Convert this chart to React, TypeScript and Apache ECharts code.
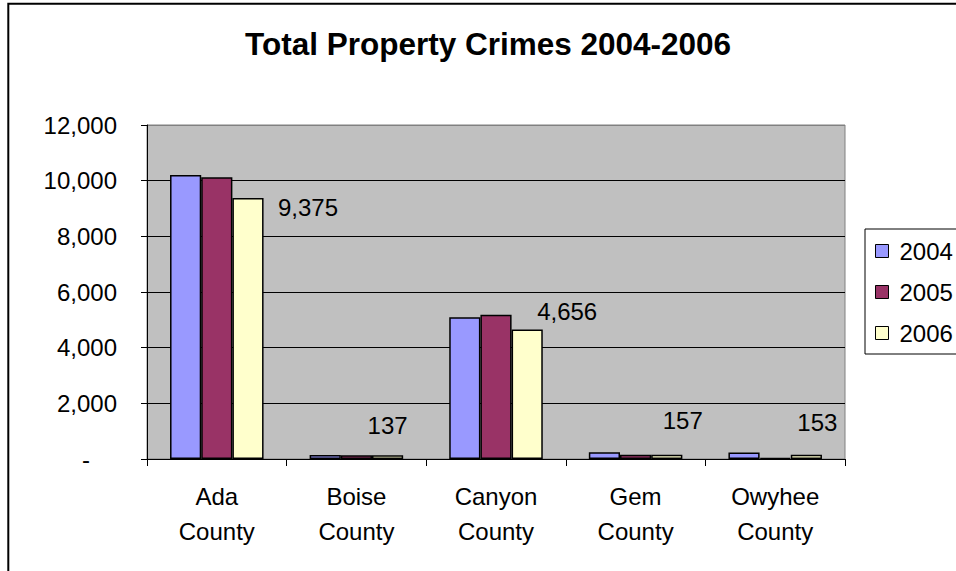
import React, { useEffect, useRef } from "react";
import * as echarts from "echarts";

const categories = ["Ada\nCounty", "Boise\nCounty", "Canyon\nCounty", "Gem\nCounty", "Owyhee\nCounty"];
const seriesNames = ["2004", "2005", "2006"];
const values2004 = [10200, 140, 5090, 240, 230];
const values2005 = [10120, 135, 5185, 150, 40];
const values2006 = [9375, 137, 4656, 157, 153];
const yTicks = [0, 2000, 4000, 6000, 8000, 10000, 12000];

// label placement offsets for the 2006 data labels (style, not data)
const labelOffsets2006: [number, number][] = [
  [60, 21],
  [0, -18],
  [40, -6],
  [16, -22],
  [11, -20],
];

const FONT = "'Liberation Sans', Arial, sans-serif";
const colors = ["#9999FF", "#993366", "#FFFFCC"];

export default function App() {
  const ref = useRef<HTMLDivElement>(null);
  useEffect(() => {
    if (!ref.current) return;
    const chart = echarts.init(ref.current, undefined, { renderer: "svg" });
    const fmt = (v: number) => v.toLocaleString("en-US");
    const allValues = [values2004, values2005, values2006];
    const option: any = {
      animation: false,
      backgroundColor: "#FFFFFF",
      textStyle: { fontFamily: FONT },
      title: {
        text: "Total Property Crimes 2004-2006",
        left: 245,
        top: 28,
        padding: 0,
        textStyle: { fontFamily: FONT, fontSize: 31.5, fontWeight: "bold", color: "#000" },
      },
      graphic: [
        {
          type: "rect",
          shape: { x: 8.3, y: 3.7, width: 2000, height: 2000 },
          style: { fill: "none", stroke: "#000", lineWidth: 2 },
          silent: true,
          z: 100,
        },
      ],
      legend: {
        orient: "vertical",
        left: 865,
        top: 229,
        padding: [10, 60, 9, 10],
        icon: "rect",
        itemWidth: 13,
        itemHeight: 13,
        itemGap: 17,
        borderColor: "#000",
        borderWidth: 1,
        backgroundColor: "#FFFFFF",
        data: seriesNames,
        itemStyle: { borderColor: "#000", borderWidth: 1 },
        textStyle: { fontFamily: FONT, fontSize: 24, lineHeight: 24, color: "#000", padding: [0, 0, 0, 6] },
      },
      grid: {
        left: 147,
        right: 111,
        top: 125,
        bottom: 112,
        show: true,
        backgroundColor: "#C0C0C0",
        borderColor: "#808080",
        borderWidth: 1,
      },
      xAxis: {
        type: "category",
        data: categories,
        axisLine: { lineStyle: { color: "#000", width: 1 } },
        axisTick: { show: true, length: 7, lineStyle: { color: "#000" } },
        axisLabel: {
          fontFamily: FONT,
          fontSize: 24,
          lineHeight: 35,
          color: "#000",
          margin: 20,
        },
      },
      yAxis: {
        type: "value",
        min: yTicks[0],
        max: yTicks[yTicks.length - 1],
        interval: yTicks[1] - yTicks[0],
        axisLine: { show: true, lineStyle: { color: "#000", width: 1 } },
        axisTick: { show: true, length: 6, lineStyle: { color: "#000" } },
        splitLine: {
          show: true,
          lineStyle: {
            color: ["#000", "#000", "#000", "#000", "#000", "#000", "#808080"],
            width: 1,
          },
        },
        axisLabel: {
          fontFamily: FONT,
          fontSize: 24,
          color: "#000",
          margin: 30,
          formatter: (v: number) => (v === 0 ? "{z|-}" : fmt(v)),
          rich: { z: { fontFamily: FONT, fontSize: 24, color: "#000", padding: [0, 27, 0, 0] } },
        },
      },
      series: seriesNames.map((name, si) => ({
        name,
        type: "bar",
        barGap: "0%",
        barCategoryGap: "33%",
        itemStyle: { color: colors[si], borderColor: "#000", borderWidth: 1.5 },
        data:
          si === 2
            ? allValues[si].map((v, i) => ({
                value: v,
                label: {
                  show: true,
                  position: "top",
                  distance: 0,
                  offset: labelOffsets2006[i],
                  formatter: (p: any) => fmt(p.value),
                  fontFamily: FONT,
                  fontSize: 24,
                  lineHeight: 24,
                  color: "#000",
                },
              }))
            : allValues[si],
      })),
    };
    chart.setOption(option);
    return () => chart.dispose();
  }, []);
  return (
    <div
      ref={ref}
      style={{ position: "absolute", left: 0, top: 0, width: 956, height: 571 }}
    />
  );
}
